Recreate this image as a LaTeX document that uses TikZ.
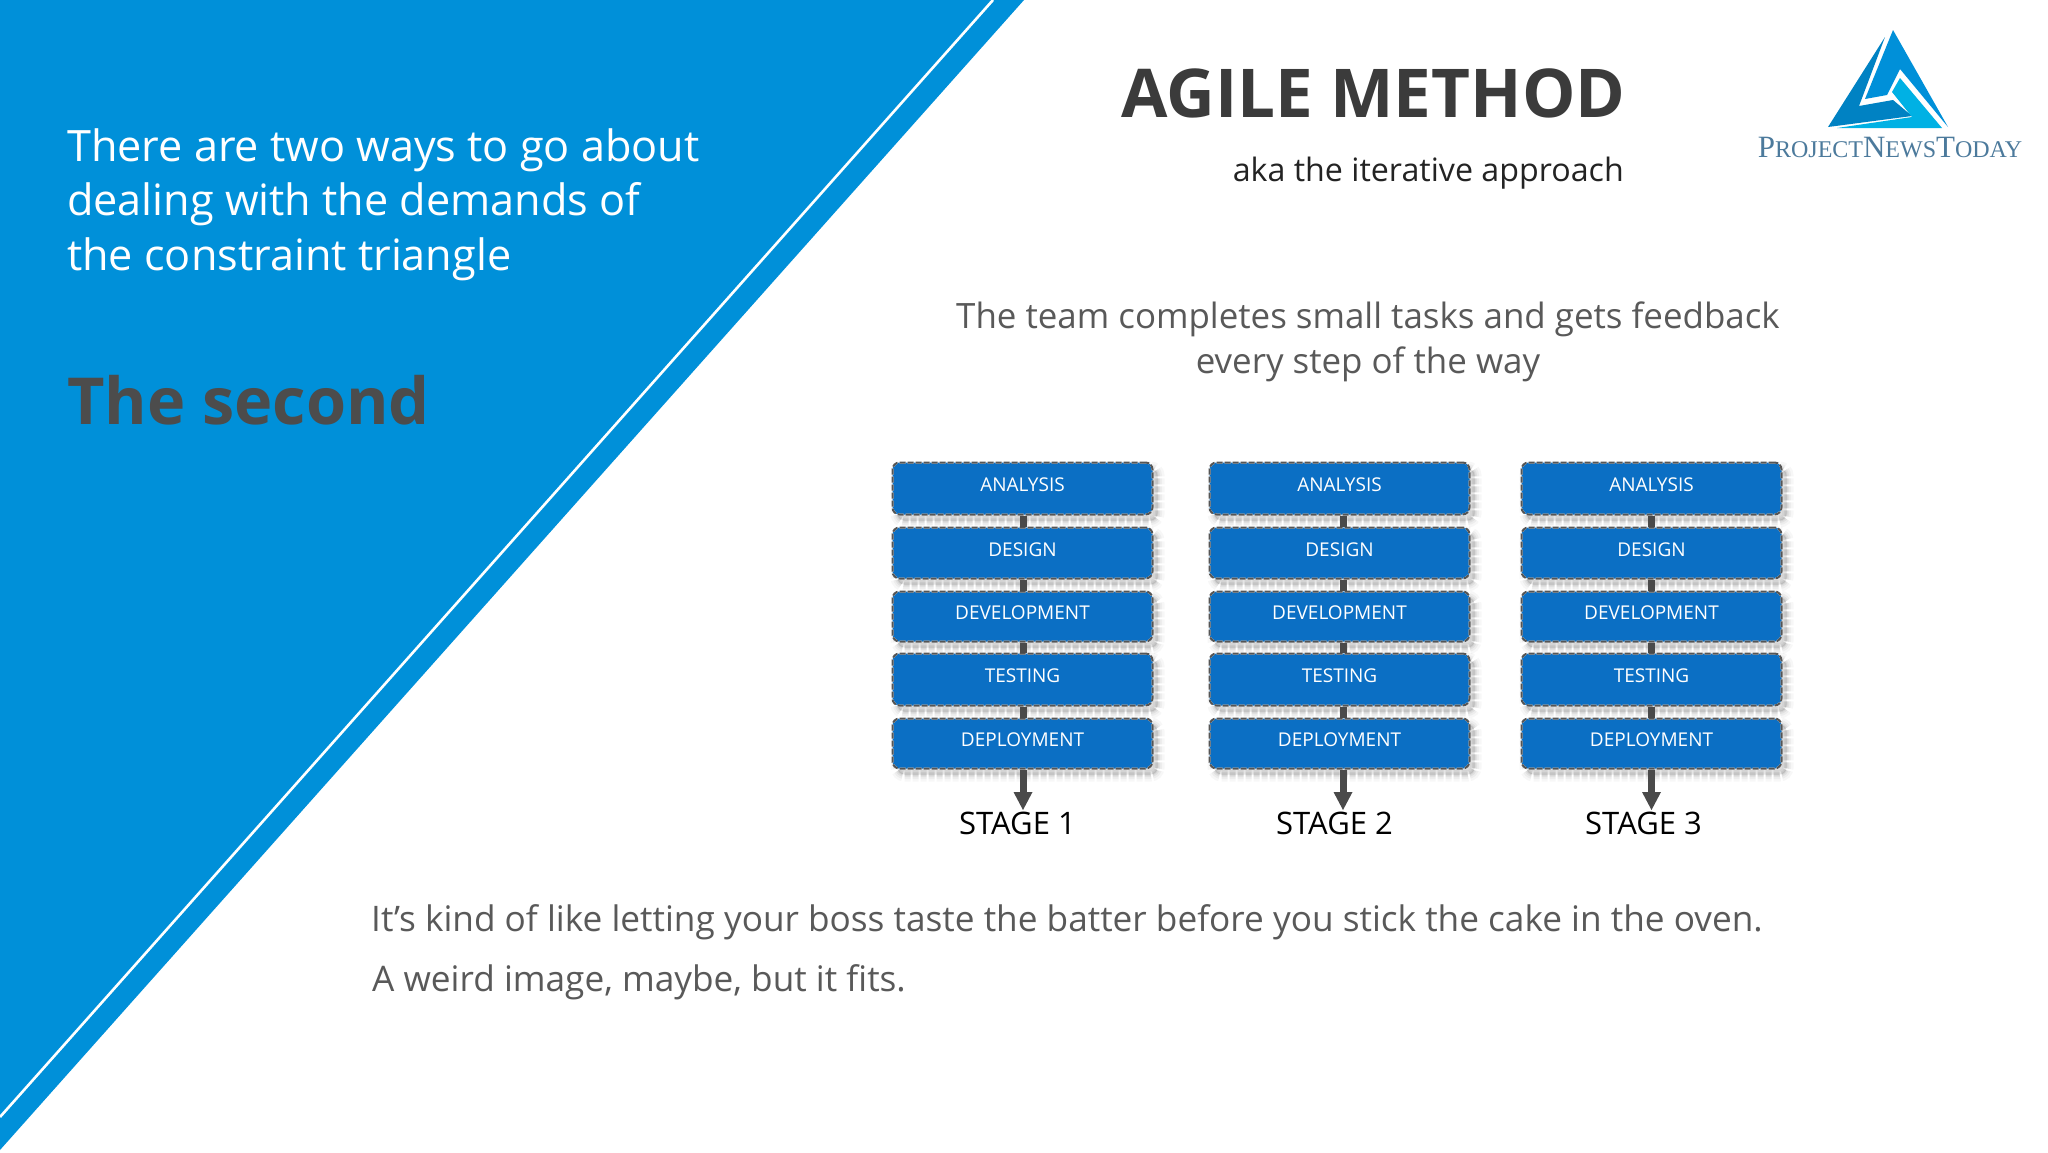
\documentclass[tikz,border=0pt]{standalone}
\usepackage{fontspec}
\setmainfont{Open Sans}
\newfontfamily\logofont{Liberation Serif}
\usetikzlibrary{calc}
\definecolor{panelblue}{HTML}{0090D9}
\definecolor{boxblue}{HTML}{0B6FC4}
\definecolor{dashgray}{HTML}{555555}
\definecolor{linkgray}{HTML}{4A4A4A}
\definecolor{bodygray}{HTML}{595959}
\definecolor{titlegray}{HTML}{3B3B3B}
\definecolor{logotext}{HTML}{4C7A9C}
\tikzset{
  txt/.style={inner sep=0pt,anchor=base west},
  stagebox/.style={rounded corners=7pt,minimum width=260pt,inner sep=0pt,
    preaction={draw=black,draw opacity=.03,line width=14pt,fill=none,transform canvas={shift={(5pt,-6pt)}}},
    preaction={draw=black,draw opacity=.04,line width=9pt,fill=none,transform canvas={shift={(5pt,-6pt)}}},
    preaction={draw=black,draw opacity=.05,line width=5pt,fill=none,transform canvas={shift={(5pt,-6pt)}}},
    preaction={draw=black,draw opacity=.06,line width=2pt,fill=none,transform canvas={shift={(5pt,-6pt)}}},
    preaction={fill=black,fill opacity=.1,draw=none,transform canvas={shift={(5pt,-6pt)}}},
    preaction={draw=white,line width=2pt,fill=boxblue},
    draw=dashgray,line width=2pt,dash pattern=on 6pt off 2pt,text=white},
  stagelabel/.style={inner sep=0pt,text=black,anchor=base},
  link/.style={draw=linkgray,line width=7pt},
  linkhead/.style={fill=linkgray,draw=none}
}
\newcommand{\boxlabel}[1]{\raisebox{7pt}{\fontsize{19}{23}\selectfont #1}}
\begin{document}
\begin{tikzpicture}[x=1pt,y=-1pt]
\useasboundingbox (0,0) rectangle (2048,1152);
\fill[white] (0,0) rectangle (2048,1152);
% panel
\fill[panelblue] (0,0) -- (1024,0) -- (0,1150) -- cycle;
\draw[white,line width=2.6pt] (993,0) -- (0,1117);
% left text
\node[txt,text=white] (l1) at (67,161.5) {\fontsize{43.2}{50}\selectfont There are two ways to go about};
\node[txt,text=white] (l2) at (67,215.5) {\fontsize{43.2}{50}\selectfont dealing with the demands of};
\node[txt,text=white] (l3) at (67,270) {\fontsize{43.2}{50}\selectfont the constraint triangle};
\node[txt,text=bodygray!85!black] (sec) at (67,424) {\fontsize{64.8}{70}\selectfont\bfseries The second};
% header
\node[txt,text=titlegray] (title) at (1121,117) {\fontsize{67.3}{72}\selectfont\bfseries AGILE METHOD};
\node[inner sep=0pt,anchor=base east,text=titlegray!60!black] (aka) at (1624,181) {\fontsize{32.2}{40}\selectfont aka the iterative approach};
\node[inner sep=0pt,anchor=base,text=bodygray] (t1) at (1368,328) {\fontsize{34.9}{44}\selectfont The team completes small tasks and gets feedback};
\node[inner sep=0pt,anchor=base,text=bodygray] (t2) at (1368,373) {\fontsize{34.9}{44}\selectfont every step of the way};
% logo
\fill[panelblue!90!black] (1885,37) -- (1828,127) -- (1912,116) -- (1893,100) -- (1859,106) -- cycle;
\fill[panelblue] (1893,30) -- (1948,127) -- (1900,69) -- (1887,95) -- (1865,99) -- cycle;
\fill[panelblue!70!cyan] (1900,78) -- (1942,128) -- (1837,128) -- (1912,117) -- (1892,92) -- cycle;
\node[inner sep=0pt,anchor=base,text=logotext] (logo) at (1890,157) {\logofont\fontsize{31}{34}\selectfont P{\fontsize{24}{27}\selectfont ROJECT}N{\fontsize{24}{27}\selectfont EWS}T{\fontsize{24}{27}\selectfont ODAY}};
% stages
\foreach \c/\cx/\off/\sx/\num in {a/1022.5/0.5/1017.5/1,b/1339.5/3.5/1334.5/2,c/1651.5/0/1643.5/3}{
  \node[stagebox,minimum height=52pt] (\c1) at (\cx,488.5) {\boxlabel{ANALYSIS}};
  \node[stagebox,minimum height=51pt] (\c2) at (\cx,553) {\boxlabel{DESIGN}};
  \node[stagebox,minimum height=50pt] (\c3) at (\cx,616.5) {\boxlabel{DEVELOPMENT}};
  \node[stagebox,minimum height=52pt] (\c4) at (\cx,679.5) {\boxlabel{TESTING}};
  \node[stagebox,minimum height=50pt] (\c5) at (\cx,743.5) {\boxlabel{DEPLOYMENT}};
  \draw[link] ([xshift=\off pt]\c1.south) -- ([xshift=\off pt]\c2.north);
  \draw[link] ([xshift=\off pt]\c2.south) -- ([xshift=\off pt]\c3.north);
  \draw[link] ([xshift=\off pt]\c3.south) -- ([xshift=\off pt]\c4.north);
  \draw[link] ([xshift=\off pt]\c4.south) -- ([xshift=\off pt]\c5.north);
  \coordinate (\c tip) at (\cx+\off,810);
  \draw[link] ([xshift=\off pt]\c5.south) -- ($(\c tip)+(0,-16)$);
  \fill[linkhead] (\c tip) -- ($(\c tip)+(-9.5,-18)$) -- ($(\c tip)+(9.5,-18)$) -- cycle;
  \node[stagelabel] (s\c) at (\sx,834) {\fontsize{31}{36}\selectfont STAGE \num};
}
% bottom text
\node[txt,text=bodygray] (b1) at (371,931) {\fontsize{35.2}{44}\selectfont It’s kind of like letting your boss taste the batter before you stick the cake in the oven.};
\node[txt,text=bodygray] (b2) at (372,991) {\fontsize{35.2}{44}\selectfont A weird image, maybe, but it fits.};
\end{tikzpicture}
\end{document}
